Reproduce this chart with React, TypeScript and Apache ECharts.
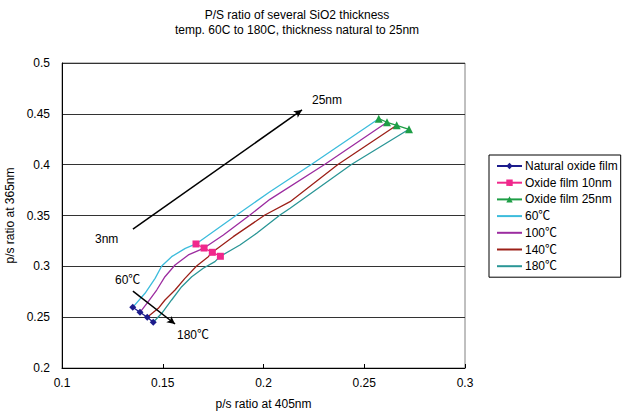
import React, { useEffect, useRef } from "react";
import * as echarts from "echarts";

const titleLines = ["P/S ratio of several SiO2 thickness", "temp. 60C to 180C, thickness natural to 25nm"];
const xAxisName = "p/s ratio at 405nm";
const yAxisName = "p/s ratio at 365nm";

const natX = [0.1351, 0.1387, 0.1423, 0.1453];
const natY = [0.2597, 0.2548, 0.2499, 0.245];
const film10X = [0.1665, 0.1705, 0.1746, 0.1786];
const film10Y = [0.322, 0.318, 0.3138, 0.3099];
const film25X = [0.2572, 0.2613, 0.2661, 0.2722];
const film25Y = [0.4452, 0.4417, 0.4387, 0.4348];

const t60X = [0.1351, 0.1412, 0.1462, 0.1495, 0.1544, 0.1612, 0.1665, 0.1867, 0.2032, 0.2239, 0.2572];
const t60Y = [0.2597, 0.2735, 0.2882, 0.3003, 0.3095, 0.3177, 0.322, 0.3505, 0.3734, 0.4004, 0.4452];
const t100X = [0.1387, 0.1428, 0.147, 0.1511, 0.1561, 0.1627, 0.1705, 0.1801, 0.1933, 0.2032, 0.2305, 0.2613];
const t100Y = [0.2548, 0.2652, 0.2767, 0.2898, 0.3013, 0.3112, 0.318, 0.3308, 0.3505, 0.3659, 0.4004, 0.4417];
const t140X = [0.1423, 0.1478, 0.1511, 0.1561, 0.161, 0.1668, 0.1726, 0.1746, 0.185, 0.2007, 0.2132, 0.2371, 0.2661];
const t140Y = [0.2499, 0.2587, 0.2669, 0.2767, 0.2882, 0.3003, 0.3095, 0.3138, 0.3292, 0.3505, 0.3636, 0.4004, 0.4387];
const t180X = [0.1453, 0.1495, 0.1544, 0.1594, 0.1644, 0.1701, 0.1759, 0.1786, 0.1883, 0.1966, 0.2082, 0.2132, 0.2438, 0.2722];
const t180Y = [0.245, 0.2538, 0.2669, 0.28, 0.2898, 0.2981, 0.3046, 0.3099, 0.321, 0.3325, 0.3505, 0.3571, 0.4004, 0.4348];

// annotation arrows in data coordinates: [x0, y0, x1, y1]
const thicknessArrow = [0.1352, 0.3367, 0.2191, 0.4538];
const tempArrow = [0.1352, 0.2757, 0.1561, 0.2433];

const FONT = "'Liberation Sans', Arial, 'Noto Sans CJK JP', sans-serif";

const zip = (xs: number[], ys: number[]) => xs.map((x, i) => [x, ys[i]]);

export default function App() {
  const ref = useRef<HTMLDivElement>(null);
  useEffect(() => {
    if (!ref.current) return;
    const chart = echarts.init(ref.current, null, { renderer: "svg" });
    const tempLine = (name: string, xs: number[], ys: number[], color: string) => ({
      name,
      type: "line",
      data: zip(xs, ys),
      symbol: "none",
      showSymbol: false,
      smooth: false,
      z: 2,
      lineStyle: { color, width: 1.3 },
      itemStyle: { color },
    });
    const markerLine = (name: string, xs: number[], ys: number[], color: string, symbol: string, size: number) => ({
      name,
      type: "line",
      data: zip(xs, ys),
      symbol,
      symbolSize: size,
      z: 5,
      lineStyle: { color, width: 1.3 },
      itemStyle: { color },
    });
    const noSymbol = { opacity: 0, color: "transparent", borderWidth: 0 };
    chart.setOption({
      animation: false,
      backgroundColor: "#fff",
      textStyle: { fontFamily: FONT },
      graphic: [
        { type: "text", x: 297, y: 15, style: { text: titleLines[0], align: "center", verticalAlign: "middle", font: `12px ${FONT}`, fill: "#000" } },
        { type: "text", x: 297, y: 30, style: { text: titleLines[1], align: "center", verticalAlign: "middle", font: `12px ${FONT}`, fill: "#000" } },
        { type: "text", x: 95, y: 239, style: { text: "3nm", align: "left", verticalAlign: "middle", font: `12px ${FONT}`, fill: "#000" } },
        { type: "text", x: 312, y: 100, style: { text: "25nm", align: "left", verticalAlign: "middle", font: `12px ${FONT}`, fill: "#000" } },
        { type: "text", x: 115, y: 280, style: { text: "60\u2103", align: "left", verticalAlign: "middle", font: `12px ${FONT}`, fill: "#000" } },
        { type: "text", x: 177, y: 335, style: { text: "180\u2103", align: "left", verticalAlign: "middle", font: `12px ${FONT}`, fill: "#000" } },
      ],
      grid: { left: 62, right: 161, top: 63, bottom: 46, show: true, borderColor: "#808080", borderWidth: 1, outerBoundsMode: "none", containLabel: false },
      legend: {
        orient: "vertical",
        left: 489,
        top: 155,
        padding: [5, 3, 5, 7],
        itemWidth: 25,
        itemHeight: 8,
        itemGap: 4.7,
        borderColor: "#000",
        borderWidth: 1,
        backgroundColor: "#fff",
        textStyle: { fontSize: 12, lineHeight: 12, color: "#000", fontFamily: FONT, padding: [0, 0, 0, -2] },
        data: [
          { name: "Natural oxide film" },
          { name: "Oxide film 10nm" },
          { name: "Oxide film 25nm" },
          { name: "60\u2103", itemStyle: noSymbol },
          { name: "100\u2103", itemStyle: noSymbol },
          { name: "140\u2103", itemStyle: noSymbol },
          { name: "180\u2103", itemStyle: noSymbol },
        ],
      },
      xAxis: {
        type: "value",
        min: 0.1,
        max: 0.3,
        interval: 0.05,
        name: xAxisName,
        nameLocation: "middle",
        nameGap: 30,
        nameTextStyle: { fontSize: 12, color: "#000", fontFamily: FONT },
        axisLine: { show: true, lineStyle: { color: "#000", width: 1 } },
        axisTick: { show: true, inside: true, length: 4, lineStyle: { color: "#000" } },
        axisLabel: { fontSize: 12, color: "#000", margin: 9, fontFamily: FONT },
        splitLine: { show: false },
      },
      yAxis: {
        type: "value",
        min: 0.2,
        max: 0.5,
        interval: 0.05,
        name: yAxisName,
        nameLocation: "middle",
        nameGap: 42,
        nameTextStyle: { fontSize: 12, color: "#000", fontFamily: FONT },
        axisLine: { show: true, lineStyle: { color: "#000", width: 1 } },
        axisTick: { show: false },
        axisLabel: { fontSize: 12, color: "#000", margin: 12, fontFamily: FONT },
        splitLine: { show: true, lineStyle: { color: "#333", width: 1 } },
      },
      series: [
        markerLine("Natural oxide film", natX, natY, "#1c1c8c", "diamond", 7),
        markerLine("Oxide film 10nm", film10X, film10Y, "#f0288c", "rect", 7),
        markerLine("Oxide film 25nm", film25X, film25Y, "#1e9e46", "triangle", 8),
        tempLine("60\u2103", t60X, t60Y, "#3cbcdc"),
        tempLine("100\u2103", t100X, t100Y, "#9c2ca0"),
        tempLine("140\u2103", t140X, t140Y, "#9c2018"),
        tempLine("180\u2103", t180X, t180Y, "#2a9696"),
        {
          name: "annotations",
          type: "line",
          data: [],
          silent: true,
          markLine: {
            silent: true,
            symbol: ["none", "arrow"],
            symbolSize: [6, 8],
            label: { show: false },
            lineStyle: { color: "#000", width: 1.5, type: "solid" },
            data: [
              [
                { coord: [thicknessArrow[0], thicknessArrow[1]] },
                { coord: [thicknessArrow[2], thicknessArrow[3]] },
              ],
              [
                { coord: [tempArrow[0], tempArrow[1]] },
                { coord: [tempArrow[2], tempArrow[3]] },
              ],
            ],
          },
        },
      ],
    });
    return () => chart.dispose();
  }, []);
  return <div ref={ref} style={{ width: 626, height: 414, position: "absolute", left: 0, top: 0 }} />;
}
